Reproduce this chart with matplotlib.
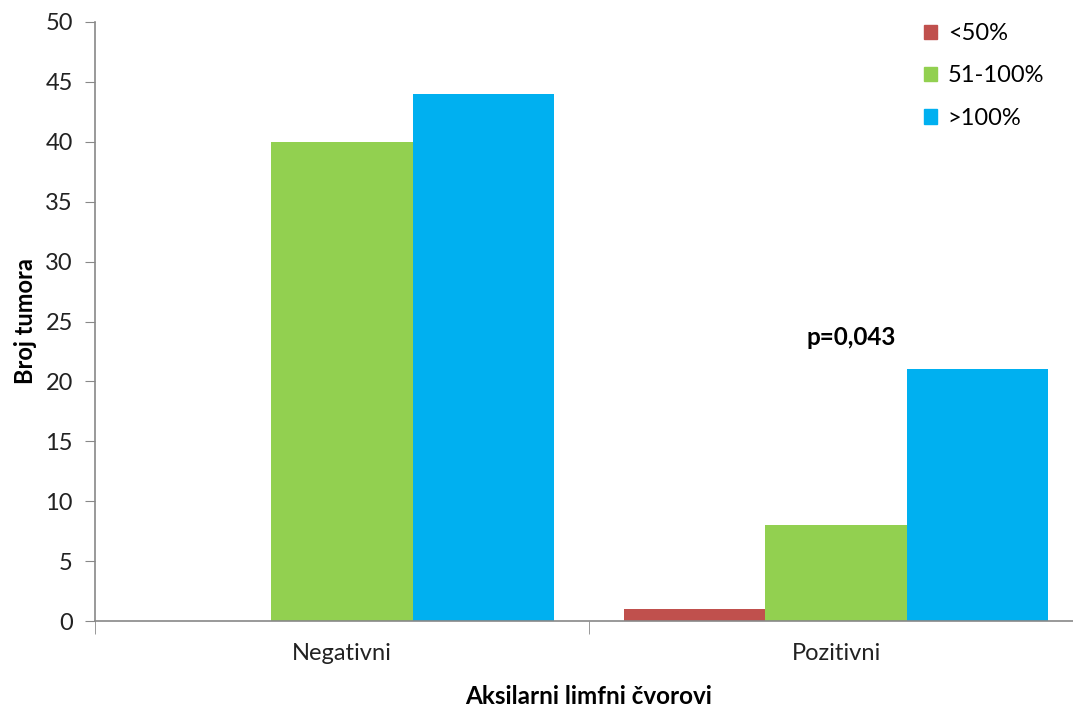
import numpy as np
import matplotlib
matplotlib.use('Agg')
import matplotlib.pyplot as plt
from matplotlib.patches import Patch

categories = ['Negativni', 'Pozitivni']
series_names = ['<50%', '51-100%', '>100%']
lt50 = [0, 1]
mid = [40, 8]
gt100 = [44, 21]
colors = ['#C0504D', '#92D050', '#00B0F0']
yticks = [0, 5, 10, 15, 20, 25, 30, 35, 40, 45, 50]

plt.rcParams['font.family'] = ['Lato', 'DejaVu Sans']

fig = plt.figure(figsize=(10.73, 7.06), dpi=100)
W, H = 1073, 706
# plot area in pixels: left 95, right 1083, top 22, bottom 621
ax = fig.add_axes([95 / W, (H - 621) / H, (1083 - 95) / W, (621 - 22) / H])

x = np.arange(len(categories))
bw = 0.2857
for i, (vals, name) in enumerate(zip([lt50, mid, gt100], series_names)):
    ax.bar(x + (i - 1) * bw, vals, bw, color=colors[i], label=name, zorder=2)

ax.set_xlim(-0.5, 1.5)
ax.set_ylim(0, 50)
ax.set_yticks(yticks)
ax.set_yticklabels([str(t) for t in yticks], fontsize=17, color='#222222')
ax.set_xticks(x)
ax.set_xticklabels(categories, fontsize=17, color='#222222')
ax.tick_params(axis='x', length=0, pad=16)
ax.tick_params(axis='y', length=7, color='#888888', pad=9)

# category separator ticks
ax.set_xticks([-0.5, 0.5, 1.5], minor=True)
ax.tick_params(axis='x', which='minor', length=9, color='#888888')

for s in ['top', 'right']:
    ax.spines[s].set_visible(False)
for s in ['left', 'bottom']:
    ax.spines[s].set_color('#888888')
    ax.spines[s].set_linewidth(1.2)

ax.set_ylabel('Broj tumora', fontsize=17, fontweight='bold', labelpad=6)
ax.set_xlabel('Aksilarni limfni čvorovi', fontsize=17.5, fontweight='bold', labelpad=15)

ax.text(1.03, 23.7, 'p=0,043', ha='center', va='center', fontsize=17.5, fontweight='bold')

handles = [Patch(color=c, label=n) for c, n in zip(colors, series_names)]
fig.legend(handles=handles, loc='upper left', bbox_to_anchor=(903 / W, 1 - 2 / H),
           frameon=False, fontsize=17, handlelength=0.55, handleheight=0.55,
           handletextpad=0.45, labelspacing=0.9)

fig.savefig('out.png', dpi=100)
